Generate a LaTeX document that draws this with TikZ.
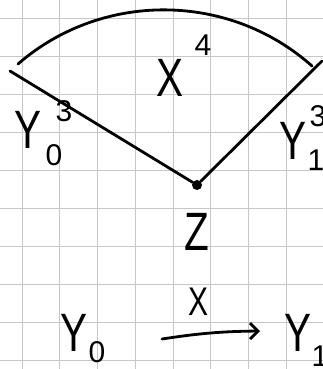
\documentclass[tikz,border=0pt]{standalone}
\usepackage{fontspec}
\setmainfont{Liberation Sans}
\usetikzlibrary{arrows.meta}
\tikzset{
  gridline/.style={draw=black!22, line width=1pt},
  ink/.style={draw=black, line width=2.8pt, line cap=round},
  big/.style={inner sep=0pt, font=\fontsize{54}{54}\selectfont},
  small/.style={inner sep=0pt, font=\fontsize{30}{30}\selectfont},
}
\newcommand{\nar}[1]{\scalebox{0.75}[1]{#1}}
\begin{document}
\begin{tikzpicture}[x=1pt,y=-1pt]
\useasboundingbox (0,0) rectangle (323,369);
\fill[white] (0,0) rectangle (323,369);
% grid
\foreach \i in {0,...,7} {\draw[gridline] (22+37.75*\i,0) -- (22+37.75*\i,369);}
\foreach \j in {0,...,9} {\draw[gridline] (0,19+37.9*\j) -- (323,19+37.9*\j);}
% sector
\node[circle, fill=black, inner sep=0pt, minimum size=10pt] (z) at (197,185) {};
\coordinate (lstart) at (10,71);
\coordinate (rstart) at (322,61);
\coordinate (arcL) at (18,64);
\coordinate (arcR) at (312,66);
\draw[ink] (arcL) .. controls (102,-9) and (229,-8) .. (arcR);
\draw[ink] (lstart) -- (z);
\draw[ink] (rstart) -- (z);
% labels
\node[big] (x4) at (170,78) {\nar{X}};
\node[small] (x4s) at (203,45) {4};
\node[big] (y03) at (28,130) {\nar{Y}};
\node[small] (y03s) at (64,111) {3};
\node[small] (y03b) at (54,155) {0};
\node[big] (y13) at (293,141) {\nar{Y}};
\node[small] (y13s) at (318,116) {3};
\node[small] (y13b) at (316,160) {1};
\node[big] (zl) at (197,232) {\nar{Z}};
% bottom arrow
\node[big] (yb0) at (74,333) {\nar{Y}};
\node[small] (yb0s) at (97,352) {0};
\node[big] (yb1) at (298,333) {\nar{Y}};
\node[small] (yb1s) at (320,356) {1};
\node[small, font=\fontsize{40}{40}\selectfont] (xl) at (199,302) {\nar{X}};
\coordinate (as) at (162,339);
\coordinate (ae) at (260,331);
\draw[ink, -{Straight Barb[length=8pt,width=16pt,line width=2.8pt]}] (as) to[bend left=4] (ae);
\end{tikzpicture}
\end{document}
